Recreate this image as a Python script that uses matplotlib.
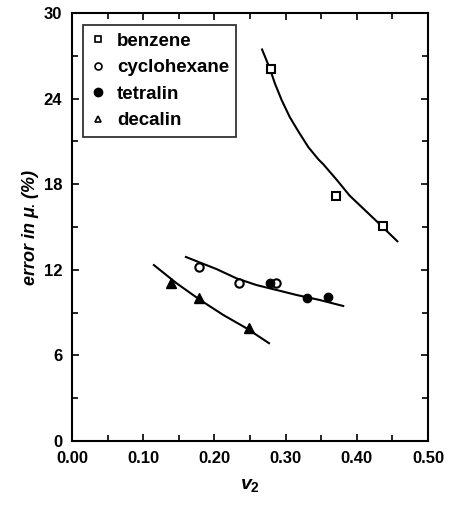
import matplotlib.pyplot as plt
from matplotlib.lines import Line2D
from matplotlib.ticker import MultipleLocator, FormatStrFormatter

plt.rcParams['font.family'] = ['Liberation Sans', 'DejaVu Sans']
plt.rcParams['font.weight'] = 'bold'
plt.rcParams['mathtext.fontset'] = 'custom'
plt.rcParams['mathtext.it'] = 'Liberation Sans:italic:bold'
plt.rcParams['mathtext.rm'] = 'Liberation Sans:bold'

# measured points
benz_x = [0.279, 0.371, 0.437]
benz_y = [26.1, 17.2, 15.1]
cyc_x = [0.179, 0.235, 0.287]
cyc_y = [12.2, 11.05, 11.1]
tet_x = [0.278, 0.330, 0.359]
tet_y = [11.1, 10.05, 10.1]
dec_x = [0.139, 0.179, 0.248]
dec_y = [11.05, 10.05, 7.9]

# fitted curves
benz_fit_x = [0.267, 0.278, 0.285, 0.2945, 0.306, 0.318, 0.332, 0.346,
              0.353, 0.372, 0.390, 0.409, 0.428, 0.457]
benz_fit_y = [27.45, 26.1, 25.07, 23.9, 22.7, 21.7, 20.6, 19.75,
              19.4, 18.3, 17.2, 16.3, 15.4, 14.0]
cyc_fit_x = [0.160, 0.180, 0.203, 0.231, 0.259, 0.2875, 0.3156, 0.348, 0.381]
cyc_fit_y = [12.9, 12.5, 12.05, 11.4, 10.93, 10.58, 10.23, 9.88, 9.46]
dec_fit_x = [0.115, 0.147, 0.180, 0.2125, 0.245, 0.2767]
dec_fit_y = [12.33, 11.05, 9.88, 8.83, 7.9, 6.85]

fig = plt.figure(figsize=(4.5, 5.05), dpi=100)
ax = fig.add_axes([0.16, 0.127, 0.791, 0.847])

ax.plot(benz_fit_x, benz_fit_y, color='black', lw=1.5)
ax.plot(cyc_fit_x, cyc_fit_y, color='black', lw=1.5)
ax.plot(dec_fit_x, dec_fit_y, color='black', lw=1.5)

ax.plot(benz_x, benz_y, 's', ms=6, mfc='white', mec='black', mew=1.5)
ax.plot(cyc_x, cyc_y, 'o', ms=6, mfc='white', mec='black', mew=1.5)
ax.plot(tet_x, tet_y, 'o', ms=6, mfc='black', mec='black')
ax.plot(dec_x, dec_y, '^', ms=6.5, mfc='black', mec='black')

ax.set_xlim(0, 0.5)
ax.set_ylim(0, 30)
ax.xaxis.set_major_locator(MultipleLocator(0.1))
ax.xaxis.set_minor_locator(MultipleLocator(0.05))
ax.yaxis.set_major_locator(MultipleLocator(6))
ax.yaxis.set_minor_locator(MultipleLocator(3))
ax.xaxis.set_major_formatter(FormatStrFormatter('%.2f'))
ax.tick_params(which='both', direction='in', top=True, right=True, width=1.2,
               labelsize=12, pad=7)
ax.tick_params(which='major', length=5)
ax.tick_params(which='minor', length=4)
for s in ax.spines.values():
    s.set_linewidth(1.5)

ax.set_xlabel('$v_{2}$', fontsize=14, labelpad=8)
ax.set_ylabel('error in $\\mu_{\\bullet}$ (%)', fontsize=13,
              fontstyle='italic', fontweight='bold', labelpad=2)

handles = [
    Line2D([], [], ls='', marker='s', ms=5, mfc='white', mec='black', mew=1.2),
    Line2D([], [], ls='', marker='o', ms=5, mfc='white', mec='black', mew=1.2),
    Line2D([], [], ls='', marker='o', ms=6, mfc='black', mec='black'),
    Line2D([], [], ls='', marker='^', ms=5, mfc='white', mec='black', mew=1.2),
]
labels = ['benzene', 'cyclohexane', 'tetralin', 'decalin']
leg = ax.legend(handles, labels, loc='upper left', bbox_to_anchor=(0.031, 0.972),
                borderaxespad=0, fancybox=False, edgecolor='black', fontsize=13.5,
                handlelength=0.8, handletextpad=0.6, borderpad=0.4, labelspacing=0.5)
leg.get_frame().set_linewidth(1.3)

fig.savefig('out.png', dpi=100)
